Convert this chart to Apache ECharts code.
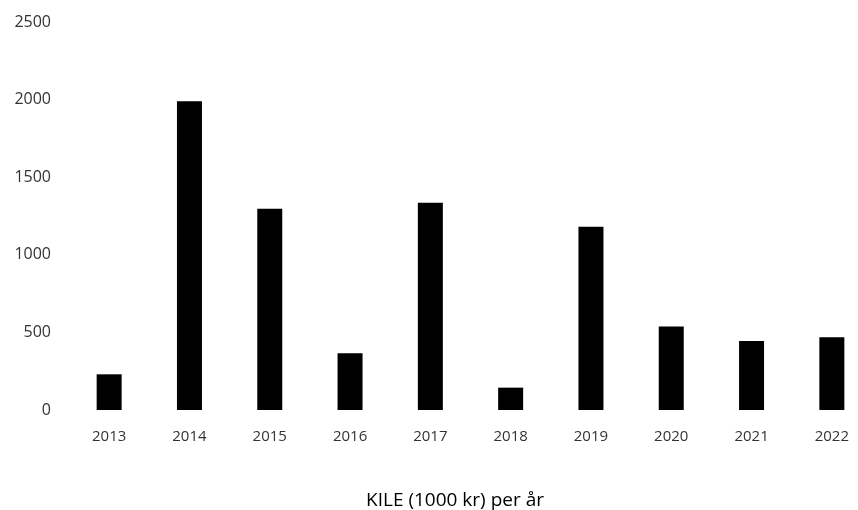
<!DOCTYPE html>
<html><head><meta charset="utf-8">
<script src="https://cdn.jsdelivr.net/npm/echarts@6/dist/echarts.min.js"></script>
<style>html,body{margin:0;padding:0;background:#fff}#c{width:858px;height:510px}</style>
</head><body><div id="c"></div>
<script>
const categories = ['2013','2014','2015','2016','2017','2018','2019','2020','2021','2022'];
const values = [230, 1990, 1297, 366, 1335, 144, 1180, 538, 445, 468];
const yTicks = {min: 0, max: 2500, interval: 500};
const titleText = 'KILE (1000 kr) per år';

const chart = echarts.init(document.getElementById('c'));
chart.setOption({
  animation: false,
  backgroundColor: '#fff',
  title: {text: titleText, left: 450, top: 486, textAlign: 'center',
    textStyle: {fontFamily: 'Open Sans', fontSize: 19, fontWeight: 'normal', color: '#000'}},
  grid: {left: 69, width: 803, top: 22, bottom: 100, outerBoundsMode: 'none', containLabel: false},
  xAxis: {type: 'category', data: categories,
    axisLine: {show: false}, axisTick: {show: false},
    axisLabel: {margin: 19, fontFamily: 'Open Sans', fontSize: 15, color: '#333'}},
  yAxis: {type: 'value', min: yTicks.min, max: yTicks.max, interval: yTicks.interval,
    splitLine: {show: false}, axisLine: {show: false}, axisTick: {show: false},
    axisLabel: {margin: 18, fontFamily: 'Open Sans', fontSize: 16, color: '#333',
      formatter: function (v) { return String(v); }}},
  series: [{type: 'bar', data: values, barWidth: 25, itemStyle: {color: '#000'}}]
});
</script></body></html>
